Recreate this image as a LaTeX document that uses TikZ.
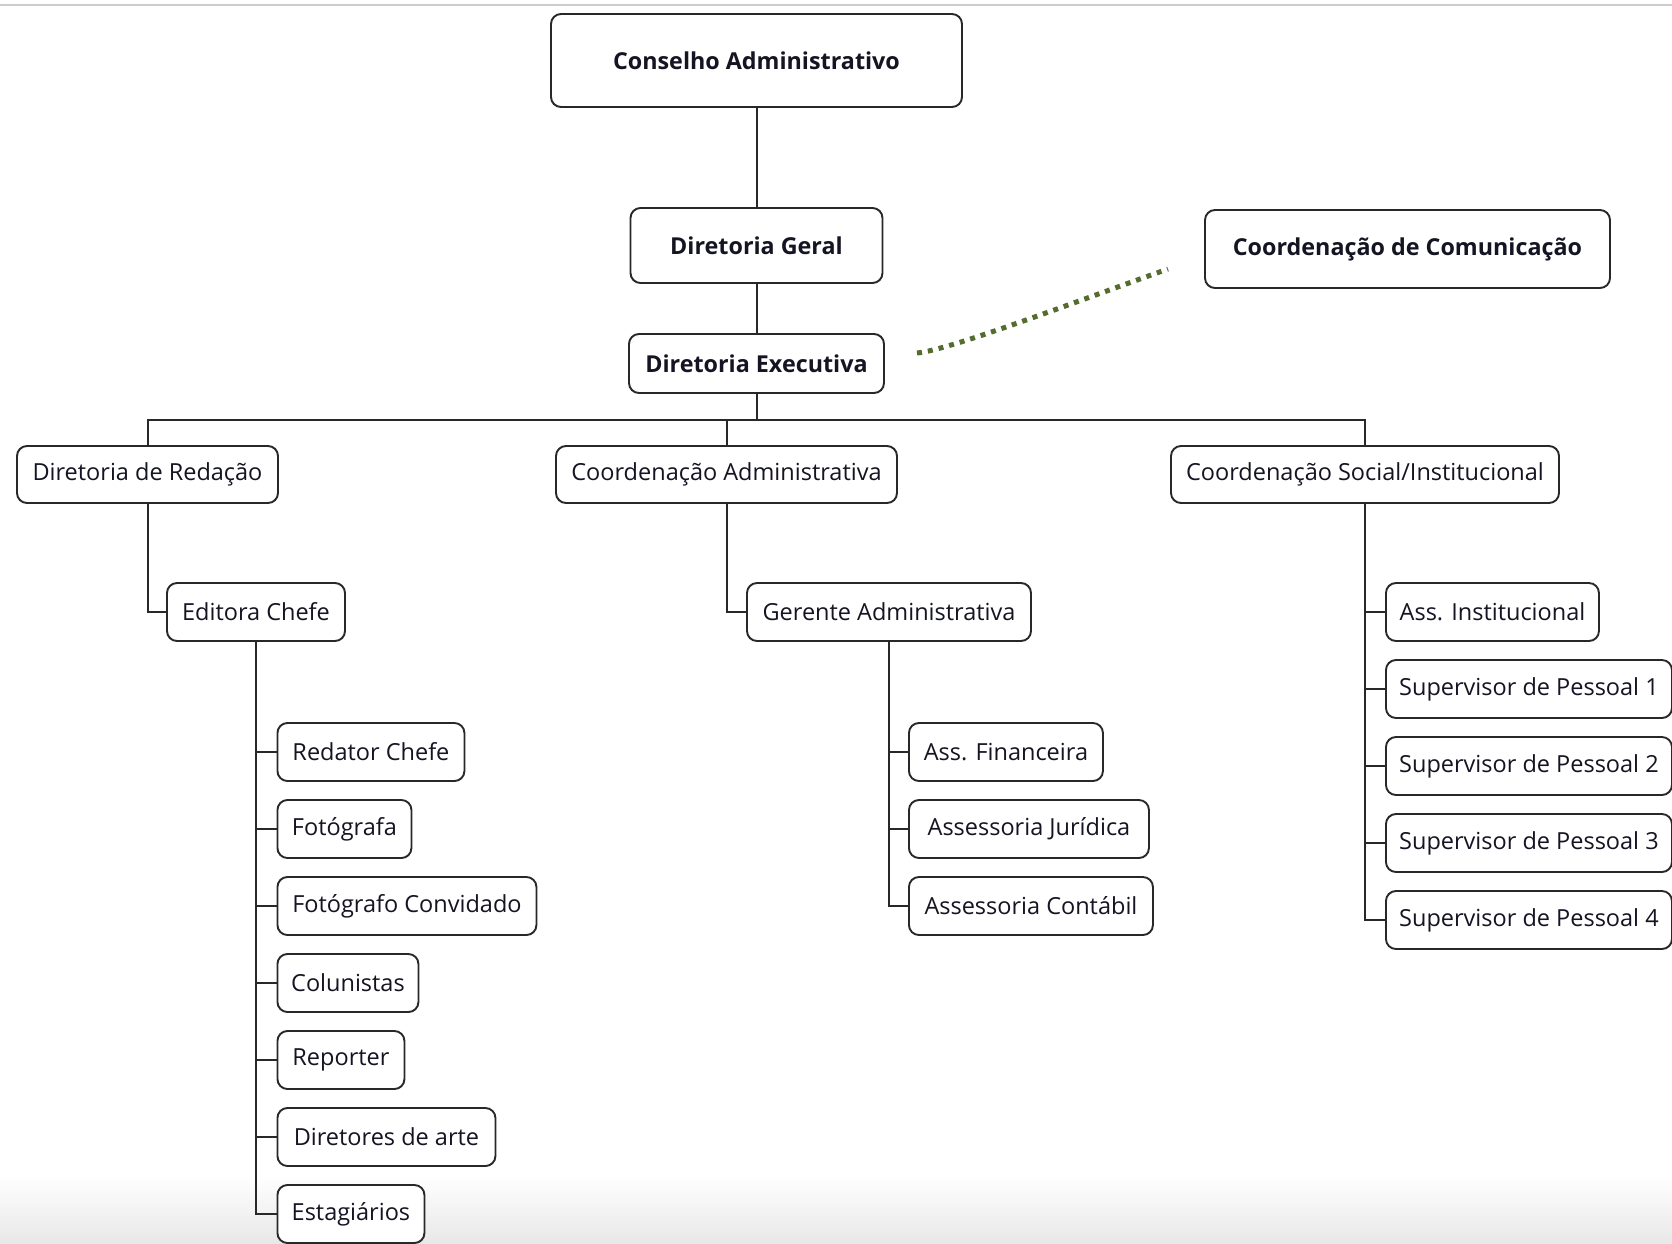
\documentclass[tikz,border=0pt]{standalone}
\usepackage{fontspec}
\setmainfont{Open Sans}
\definecolor{dotgreen}{RGB}{84,108,46}
\definecolor{linegray}{RGB}{40,40,40}
\definecolor{txt}{RGB}{20,20,35}
\begin{document}
\begin{tikzpicture}[x=1pt,y=-1pt,
  box/.style={draw=linegray, line width=1.9pt, rounded corners=10pt, fill=white, text=txt, inner sep=0pt, font=\fontsize{23.5}{28}\selectfont},
  bbox/.style={box, font=\fontsize{23.3}{28}\selectfont\bfseries},
  kid/.style={box, anchor=west, minimum height=58pt},
  mid/.style={box, minimum height=57pt},
  link/.style={draw=linegray, line width=2pt},
  dots/.style={draw=dotgreen, line width=5pt, dash pattern=on 5pt off 6pt}
]
\useasboundingbox (0,0) rectangle (1672,1243);
\fill[white] (0,0) rectangle (1672,1243);
\shade[top color=white, bottom color=black!9] (0,1175) rectangle (1672,1243);
\draw[black!20, line width=1.5pt] (0,5) -- (1672,5);

% top levels
\node[bbox, minimum width=411pt, minimum height=93pt] (conselho) at (756.5,60.5) {Conselho Administrativo};
\node[bbox, minimum width=252pt, minimum height=75pt] (geral) at (756.5,245.5) {Diretoria Geral};
\node[bbox, minimum width=255pt, minimum height=59pt] (exec) at (756.5,363.5) {Diretoria Executiva};
\node[bbox, minimum width=405pt, minimum height=78pt] (comunic) at (1407.5,249) {Coordenação de Comunicação};

% second level
\node[mid, minimum width=261pt] (redacao) at (147.5,474.5) {Diretoria de Redação};
\node[mid, minimum width=341pt] (coordadm) at (726.5,474.5) {Coordenação Administrativa};
\node[mid, minimum width=388pt] (social) at (1365,474.5) {Coordenação Social/Institucional};

% third level
\node[box, minimum width=178pt, minimum height=58pt] (editora) at (256,612) {Editora Chefe};
\node[box, minimum width=284pt, minimum height=58pt] (gerente) at (889,612) {Gerente Administrativa};

% Editora children
\node[kid, minimum width=187pt] (redator) at (276.5,752) {Redator Chefe};
\node[kid, minimum width=134pt] (fotografa) at (276.5,829) {Fotógrafa};
\node[kid, minimum width=259pt] (convidado) at (276.5,906) {Fotógrafo Convidado};
\node[kid, minimum width=141pt] (colunistas) at (276.5,983) {Colunistas};
\node[kid, minimum width=127pt] (reporter) at (276.5,1060) {Reporter};
\node[kid, minimum width=218pt] (diretores) at (276.5,1137) {Diretores de arte};
\node[kid, minimum width=147pt] (estagiarios) at (276.5,1214) {Estagiários};

% Gerente children
\node[kid, minimum width=194pt] (financeira) at (908,752) {Ass. Financeira};
\node[kid, minimum width=240pt] (juridica) at (908,829) {Assessoria Jurídica};
\node[kid, minimum width=244pt] (contabil) at (908,906) {Assessoria Contábil};

% Social children
\node[kid, minimum width=213pt] (institucional) at (1385,612) {Ass. Institucional};
\node[kid, minimum width=286pt] (sup1) at (1385,689) {Supervisor de Pessoal 1};
\node[kid, minimum width=286pt] (sup2) at (1385,766) {Supervisor de Pessoal 2};
\node[kid, minimum width=286pt] (sup3) at (1385,843) {Supervisor de Pessoal 3};
\node[kid, minimum width=286pt] (sup4) at (1385,920) {Supervisor de Pessoal 4};

% connectors
\draw[link] (conselho.south) -- (geral.north);
\draw[link] (geral.south) -- (exec.north);
\coordinate (bus) at ([yshift=-26pt]exec.south);
\draw[link] (exec.south) -- (bus);
\draw[link] (bus) -| (redacao.north);
\draw[link] (bus) -| (coordadm.north);
\draw[link] (bus) -| (social.north);

\draw[link] (redacao.south) |- (editora.west);
\draw[link] (coordadm.south) |- (gerente.west);

\foreach \n in {redator,fotografa,convidado,colunistas,reporter,diretores,estagiarios}
  \draw[link] (editora.south) |- (\n.west);
\foreach \n in {financeira,juridica,contabil}
  \draw[link] (gerente.south) |- (\n.west);
\foreach \n in {institucional,sup1,sup2,sup3,sup4}
  \draw[link] (social.south) |- (\n.west);

% dotted relationship
\coordinate (dotA) at (917,353);
\coordinate (dotB) at (1168,269);
\draw[dots] (dotA) .. controls (950,350) and (1080,300) .. (dotB);
\end{tikzpicture}
\end{document}
